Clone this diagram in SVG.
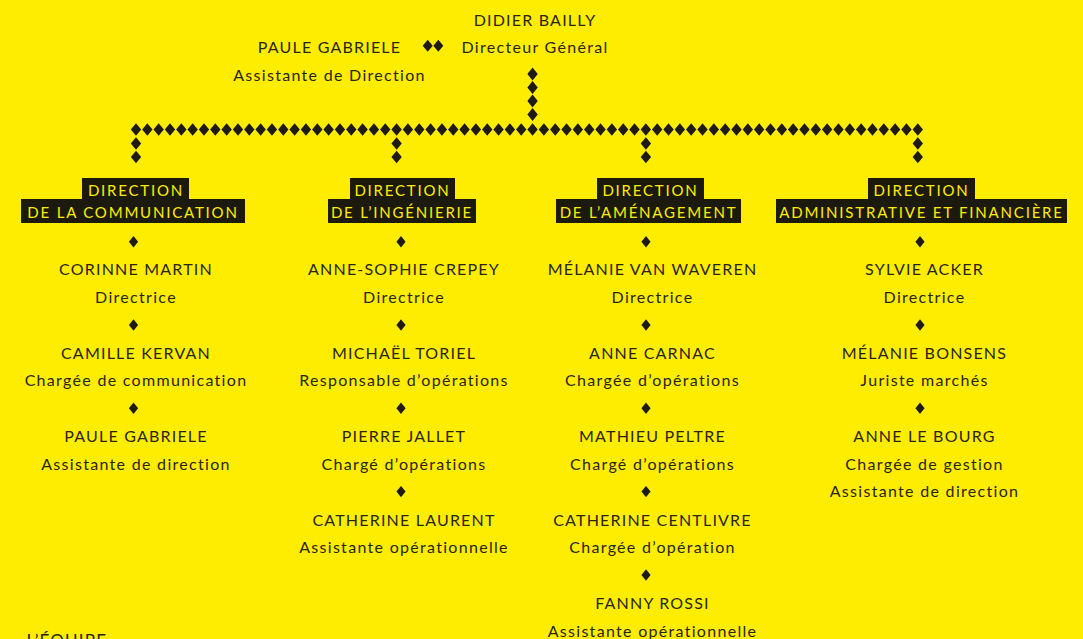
<svg xmlns="http://www.w3.org/2000/svg" xmlns:xlink="http://www.w3.org/1999/xlink" width="1083" height="639" viewBox="0 0 1083 639">
<style>
.bg{fill:#FFED00}
.ch{fill:#1e1b14}
.nm{font-family:Lato,"Liberation Sans",sans-serif;font-size:16px;fill:#29251a;text-anchor:middle;letter-spacing:1.2px}
.rl{font-family:Lato,"Liberation Sans",sans-serif;font-size:16px;fill:#29251a;text-anchor:middle;letter-spacing:1.3px}
.hb{fill:#1c1a0c}
.ht{font-family:Lato,"Liberation Sans",sans-serif;font-size:15px;fill:#FFED00;text-anchor:middle;letter-spacing:1.8px}
</style>
<defs>
<path id="sd" class="ch" d="M0,-5.7 L4.6,0 L0,5.7 L-4.6,0 Z"/>
<path id="md" class="ch" d="M0,-6 L5,0 L0,6 L-5,0 Z"/>
</defs>
<rect class="bg" x="0" y="0" width="1083" height="639"/>

<g id="connectors">
<path class="ch" d="M130.8,129.5
l5.2-6.3 5.2 6.3-5.2 6.3zm11.33 0l5.2-6.3 5.2 6.3-5.2 6.3zm11.33 0l5.2-6.3 5.2 6.3-5.2 6.3zm11.33 0l5.2-6.3 5.2 6.3-5.2 6.3zm11.33 0l5.2-6.3 5.2 6.3-5.2 6.3zm11.33 0l5.2-6.3 5.2 6.3-5.2 6.3zm11.33 0l5.2-6.3 5.2 6.3-5.2 6.3zm11.33 0l5.2-6.3 5.2 6.3-5.2 6.3zm11.33 0l5.2-6.3 5.2 6.3-5.2 6.3zm11.33 0l5.2-6.3 5.2 6.3-5.2 6.3zm11.33 0
l5.2-6.3 5.2 6.3-5.2 6.3zm11.33 0l5.2-6.3 5.2 6.3-5.2 6.3zm11.33 0l5.2-6.3 5.2 6.3-5.2 6.3zm11.33 0l5.2-6.3 5.2 6.3-5.2 6.3zm11.33 0l5.2-6.3 5.2 6.3-5.2 6.3zm11.33 0l5.2-6.3 5.2 6.3-5.2 6.3zm11.33 0l5.2-6.3 5.2 6.3-5.2 6.3zm11.33 0l5.2-6.3 5.2 6.3-5.2 6.3zm11.33 0l5.2-6.3 5.2 6.3-5.2 6.3zm11.33 0l5.2-6.3 5.2 6.3-5.2 6.3zm11.33 0
l5.2-6.3 5.2 6.3-5.2 6.3zm11.33 0l5.2-6.3 5.2 6.3-5.2 6.3zm11.33 0l5.2-6.3 5.2 6.3-5.2 6.3zm11.33 0l5.2-6.3 5.2 6.3-5.2 6.3zm11.33 0l5.2-6.3 5.2 6.3-5.2 6.3zm11.33 0l5.2-6.3 5.2 6.3-5.2 6.3zm11.33 0l5.2-6.3 5.2 6.3-5.2 6.3zm11.33 0l5.2-6.3 5.2 6.3-5.2 6.3zm11.33 0l5.2-6.3 5.2 6.3-5.2 6.3zm11.33 0l5.2-6.3 5.2 6.3-5.2 6.3zm11.33 0
l5.2-6.3 5.2 6.3-5.2 6.3zm11.33 0l5.2-6.3 5.2 6.3-5.2 6.3zm11.33 0l5.2-6.3 5.2 6.3-5.2 6.3zm11.33 0l5.2-6.3 5.2 6.3-5.2 6.3zm11.33 0l5.2-6.3 5.2 6.3-5.2 6.3zm11.33 0l5.2-6.3 5.2 6.3-5.2 6.3zm11.33 0l5.2-6.3 5.2 6.3-5.2 6.3zm11.33 0l5.2-6.3 5.2 6.3-5.2 6.3zm11.33 0l5.2-6.3 5.2 6.3-5.2 6.3zm11.33 0l5.2-6.3 5.2 6.3-5.2 6.3zm11.33 0
l5.2-6.3 5.2 6.3-5.2 6.3zm11.33 0l5.2-6.3 5.2 6.3-5.2 6.3zm11.33 0l5.2-6.3 5.2 6.3-5.2 6.3zm11.33 0l5.2-6.3 5.2 6.3-5.2 6.3zm11.33 0l5.2-6.3 5.2 6.3-5.2 6.3zm11.33 0l5.2-6.3 5.2 6.3-5.2 6.3zm11.33 0l5.2-6.3 5.2 6.3-5.2 6.3zm11.33 0l5.2-6.3 5.2 6.3-5.2 6.3zm11.33 0l5.2-6.3 5.2 6.3-5.2 6.3zm11.33 0l5.2-6.3 5.2 6.3-5.2 6.3zm11.33 0
l5.2-6.3 5.2 6.3-5.2 6.3zm11.33 0l5.2-6.3 5.2 6.3-5.2 6.3zm11.33 0l5.2-6.3 5.2 6.3-5.2 6.3zm11.33 0l5.2-6.3 5.2 6.3-5.2 6.3zm11.33 0l5.2-6.3 5.2 6.3-5.2 6.3zm11.33 0l5.2-6.3 5.2 6.3-5.2 6.3zm11.33 0l5.2-6.3 5.2 6.3-5.2 6.3zm11.33 0l5.2-6.3 5.2 6.3-5.2 6.3zm11.33 0l5.2-6.3 5.2 6.3-5.2 6.3zm11.33 0l5.2-6.3 5.2 6.3-5.2 6.3zm11.33 0
l5.2-6.3 5.2 6.3-5.2 6.3zm11.33 0l5.2-6.3 5.2 6.3-5.2 6.3zm11.33 0l5.2-6.3 5.2 6.3-5.2 6.3zm11.33 0l5.2-6.3 5.2 6.3-5.2 6.3zm11.33 0l5.2-6.3 5.2 6.3-5.2 6.3zm11.33 0l5.2-6.3 5.2 6.3-5.2 6.3zm11.33 0l5.2-6.3 5.2 6.3-5.2 6.3zm11.33 0l5.2-6.3 5.2 6.3-5.2 6.3zm11.33 0l5.2-6.3 5.2 6.3-5.2 6.3zm11.33 0l5.2-6.3 5.2 6.3-5.2 6.3z"/>
<path class="ch" d="M527.35,74 l5.2-6.5 5.2 6.5-5.2 6.5zm0 13.5 l5.2-6.5 5.2 6.5-5.2 6.5zm0 13.5 l5.2-6.5 5.2 6.5-5.2 6.5zm0 13.5 l5.2-6.5 5.2 6.5-5.2 6.5z"/>
<path class="ch" d="M130.8,143.5 l5.2-6.3 5.2 6.3-5.2 6.3zm0 13.5 l5.2-6.3 5.2 6.3-5.2 6.3z"/>
<path class="ch" d="M391.4,143.5 l5.2-6.3 5.2 6.3-5.2 6.3zm0 13.5 l5.2-6.3 5.2 6.3-5.2 6.3z"/>
<path class="ch" d="M640.7,143.5 l5.2-6.3 5.2 6.3-5.2 6.3zm0 13.5 l5.2-6.3 5.2 6.3-5.2 6.3z"/>
<path class="ch" d="M912.6,143.5 l5.2-6.3 5.2 6.3-5.2 6.3zm0 13.5 l5.2-6.3 5.2 6.3-5.2 6.3z"/>
<use href="#md" x="427.7" y="45.7"/>
<use href="#md" x="438.3" y="45.7"/>
<use href="#sd" x="133.5" y="241.7"/>
<use href="#sd" x="133.5" y="325"/>
<use href="#sd" x="133.5" y="408.3"/>
<use href="#sd" x="401" y="241.7"/>
<use href="#sd" x="401" y="325"/>
<use href="#sd" x="401" y="408.3"/>
<use href="#sd" x="401" y="491.6"/>
<use href="#sd" x="646" y="241.7"/>
<use href="#sd" x="646" y="325"/>
<use href="#sd" x="646" y="408.3"/>
<use href="#sd" x="646" y="491.6"/>
<use href="#sd" x="646" y="575"/>
<use href="#sd" x="920" y="241.7"/>
<use href="#sd" x="920" y="325"/>
<use href="#sd" x="920" y="408.3"/>
</g>

<g id="dg">
<text class="nm" x="535" y="26">DIDIER BAILLY</text>
<text class="rl" x="535" y="53.3">Directeur Général</text>
</g>
<g id="assistante-dg">
<text class="nm" x="329.5" y="53.3">PAULE GABRIELE</text>
<text class="rl" x="329.5" y="81">Assistante de Direction</text>
</g>

<g id="dir-communication">
<rect class="hb" x="82" y="178" width="107" height="22"/>
<rect class="hb" x="21" y="199" width="224" height="24"/>
<text class="ht" x="136" y="196">DIRECTION</text>
<text class="ht" x="133" y="218.3">DE LA COMMUNICATION</text>
</g>
<g id="dir-ingenierie">
<rect class="hb" x="350" y="178" width="105" height="22"/>
<rect class="hb" x="328" y="199" width="148" height="24"/>
<text class="ht" x="402.5" y="196">DIRECTION</text>
<text class="ht" x="402" y="218.3">DE L’INGÉNIERIE</text>
</g>
<g id="dir-amenagement">
<rect class="hb" x="597" y="178" width="107" height="22"/>
<rect class="hb" x="556" y="199" width="185" height="24"/>
<text class="ht" x="650.5" y="196">DIRECTION</text>
<text class="ht" x="648.5" y="218.3">DE L’AMÉNAGEMENT</text>
</g>
<g id="dir-administrative">
<rect class="hb" x="868" y="178" width="107" height="22"/>
<rect class="hb" x="776" y="199" width="291" height="24"/>
<text class="ht" x="921.5" y="196">DIRECTION</text>
<text class="ht" x="921.5" y="218.3">ADMINISTRATIVE ET FINANCIÈRE</text>
</g>

<g id="corinne-martin"><text class="nm" x="136" y="275">CORINNE MARTIN</text><text class="rl" x="136" y="303">Directrice</text></g>
<g id="camille-kervan"><text class="nm" x="136" y="358.5">CAMILLE KERVAN</text><text class="rl" x="136" y="386.3">Chargée de communication</text></g>
<g id="paule-gabriele"><text class="nm" x="136" y="442">PAULE GABRIELE</text><text class="rl" x="136" y="469.7">Assistante de direction</text></g>

<g id="anne-sophie-crepey"><text class="nm" x="404" y="275">ANNE-SOPHIE CREPEY</text><text class="rl" x="404" y="303">Directrice</text></g>
<g id="michael-toriel"><text class="nm" x="404" y="358.5">MICHAËL TORIEL</text><text class="rl" x="404" y="386.3">Responsable d’opérations</text></g>
<g id="pierre-jallet"><text class="nm" x="404" y="442">PIERRE JALLET</text><text class="rl" x="404" y="469.7">Chargé d’opérations</text></g>
<g id="catherine-laurent"><text class="nm" x="404" y="525.5">CATHERINE LAURENT</text><text class="rl" x="404" y="553">Assistante opérationnelle</text></g>

<g id="melanie-van-waveren"><text class="nm" x="652.5" y="275">MÉLANIE VAN WAVEREN</text><text class="rl" x="652.5" y="303">Directrice</text></g>
<g id="anne-carnac"><text class="nm" x="652.5" y="358.5">ANNE CARNAC</text><text class="rl" x="652.5" y="386.3">Chargée d’opérations</text></g>
<g id="mathieu-peltre"><text class="nm" x="652.5" y="442">MATHIEU PELTRE</text><text class="rl" x="652.5" y="469.7">Chargé d’opérations</text></g>
<g id="catherine-centlivre"><text class="nm" x="652.5" y="525.5">CATHERINE CENTLIVRE</text><text class="rl" x="652.5" y="553">Chargée d’opération</text></g>
<g id="fanny-rossi"><text class="nm" x="652.5" y="609">FANNY ROSSI</text><text class="rl" x="652.5" y="636.5">Assistante opérationnelle</text></g>

<g id="sylvie-acker"><text class="nm" x="924.5" y="275">SYLVIE ACKER</text><text class="rl" x="924.5" y="303">Directrice</text></g>
<g id="melanie-bonsens"><text class="nm" x="924.5" y="358.5">MÉLANIE BONSENS</text><text class="rl" x="924.5" y="386.3">Juriste marchés</text></g>
<g id="anne-le-bourg"><text class="nm" x="924.5" y="442">ANNE LE BOURG</text><text class="rl" x="924.5" y="469.7">Chargée de gestion</text><text class="rl" x="924.5" y="496.7">Assistante de direction</text></g>

<g id="equipe"><text class="nm" x="26.5" y="647" style="text-anchor:start;font-size:17px">L’ÉQUIPE</text></g>
</svg>
